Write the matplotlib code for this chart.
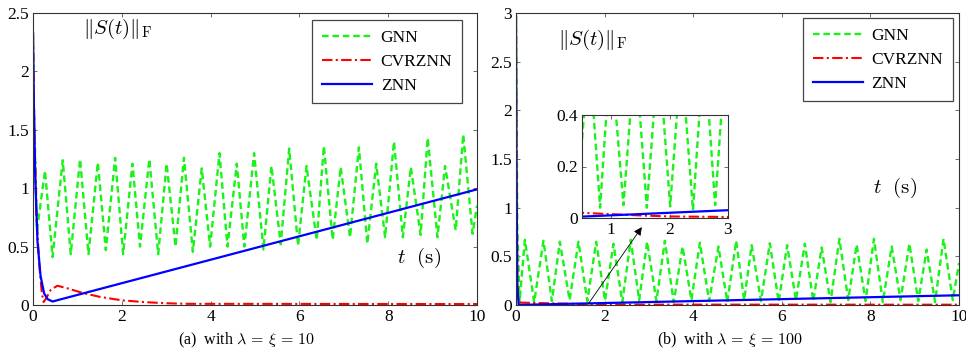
import matplotlib
matplotlib.use("Agg")
import matplotlib.pyplot as plt
import numpy as np

plt.rcParams['font.family'] = ['Liberation Serif', 'DejaVu Serif']
plt.rcParams['mathtext.fontset'] = 'cm'

# ---------------- Panel (a): lambda = xi = 10 ----------------
gnn_a_peak_t = [0.27, 0.67, 1.06, 1.46, 1.85, 2.24, 2.62, 3.01, 3.40, 3.80, 4.20, 4.59, 4.98,
                5.37, 5.77, 6.16, 6.55, 6.93, 7.34, 7.73, 8.13, 8.51, 8.89, 9.28, 9.69]
gnn_a_peak_v = [1.15, 1.24, 1.25, 1.22, 1.26, 1.21, 1.25, 1.21, 1.26, 1.17, 1.30, 1.21, 1.30,
                1.19, 1.34, 1.19, 1.36, 1.18, 1.35, 1.21, 1.40, 1.18, 1.43, 1.19, 1.46]
gnn_a_trough_t = [0.44, 0.85, 1.25, 1.64, 2.03, 2.41, 2.82, 3.21, 3.60, 3.99, 4.38, 4.76, 5.19,
                  5.58, 5.97, 6.39, 6.75, 7.14, 7.53, 7.93, 8.33, 8.73, 9.11, 9.52, 9.90]
gnn_a_trough_v = [0.41, 0.435, 0.435, 0.47, 0.435, 0.50, 0.435, 0.50, 0.455, 0.50, 0.50, 0.50, 0.475,
                  0.52, 0.51, 0.555, 0.56, 0.58, 0.525, 0.58, 0.58, 0.60, 0.58, 0.64, 0.61]
gnn_a_edge_t = [0.0, 0.02, 0.09, 10.0]
gnn_a_edge_v = [2.33, 1.70, 0.64, 0.85]

znn_a_t = [0.0, 0.02, 0.05, 0.10, 0.17, 0.25, 0.33, 0.44, 10.0]
znn_a_v = [2.33, 1.70, 1.10, 0.55, 0.25, 0.10, 0.05, 0.03, 0.99]

cvr_a_t = [0.0, 0.03, 0.08, 0.14, 0.20, 0.24, 0.30, 0.40, 0.55, 0.80, 1.10, 1.50, 2.00, 2.50, 3.00, 3.50, 10.0]
cvr_a_v = [2.33, 1.50, 0.75, 0.35, 0.10, 0.025, 0.06, 0.13, 0.165, 0.14, 0.105, 0.07, 0.04, 0.025, 0.015, 0.01, 0.008]

# ---------------- Panel (b): lambda = xi = 100 ----------------
gnn_b_peak_t = [0.20, 0.62, 0.99, 1.41, 1.81, 2.20, 2.59, 2.96, 3.36, 3.76, 4.15, 4.57, 4.97,
                5.32, 5.73, 6.12, 6.52, 6.90, 7.30, 7.69, 8.08, 8.48, 8.88, 9.27, 9.65]
gnn_b_peak_v = [0.67, 0.66, 0.65, 0.65, 0.65, 0.63, 0.67, 0.65, 0.66, 0.60, 0.64, 0.60, 0.66,
                0.615, 0.635, 0.615, 0.63, 0.59, 0.68, 0.62, 0.68, 0.60, 0.63, 0.57, 0.68]
gnn_b_trough_t = [0.41, 0.81, 1.21, 1.61, 2.01, 2.40, 2.78, 3.17, 3.56, 3.96, 4.36, 4.77, 5.15,
                  5.53, 5.93, 6.32, 6.71, 7.10, 7.50, 7.89, 8.28, 8.68, 9.08, 9.46, 9.86]
gnn_b_trough_v = [0.03, 0.04, 0.05, 0.04, 0.045, 0.03, 0.05, 0.04, 0.03, 0.05, 0.04, 0.03, 0.05,
                  0.04, 0.03, 0.05, 0.04, 0.03, 0.05, 0.04, 0.03, 0.05, 0.04, 0.03, 0.05]
gnn_b_edge_t = [0.0, 0.03, 0.08, 10.0]
gnn_b_edge_v = [2.97, 0.80, 0.03, 0.43]

znn_b_t = [0.0, 0.01, 0.03, 0.06, 10.0]
znn_b_v = [2.97, 1.50, 0.20, 0.001, 0.10]

cvr_b_t = [0.0, 0.01, 0.03, 0.06, 0.50, 1.00, 1.50, 2.00, 3.00, 10.0]
cvr_b_v = [2.97, 1.50, 0.20, 0.025, 0.02, 0.015, 0.01, 0.006, 0.004, 0.003]

xticks = [0, 2, 4, 6, 8, 10]
yticks_a = [0, 0.5, 1, 1.5, 2, 2.5]
yticks_b = [0, 0.5, 1, 1.5, 2, 2.5, 3]
inset_xticks = [1, 2, 3]
inset_yticks = [0, 0.2, 0.4]
labels = ['GNN', 'CVRZNN', 'ZNN']
caption_a = r'(a)  with $\lambda\,=\,\xi\,=\,10$'
caption_b = r'(b)  with $\lambda\,=\,\xi\,=\,100$'


def merge(edge_t, edge_v, pt, pv, tt, tv):
    t = np.array(edge_t[:-1] + pt + tt + edge_t[-1:])
    v = np.array(edge_v[:-1] + pv + tv + edge_v[-1:])
    o = np.argsort(t, kind='stable')
    return t[o], v[o]


GREEN = (0.1, 0.95, 0.1)
RED = (1.0, 0.0, 0.0)
BLUE = (0.0, 0.0, 1.0)
SPINE = '#333333'


def style_axes(ax, fs=10):
    ax.tick_params(direction='in', top=True, right=True, length=3, width=0.6,
                   color='#555555', labelsize=fs, pad=3)
    for s in ax.spines.values():
        s.set_color(SPINE)
        s.set_linewidth(0.8)


def fmt(v):
    return ('%g' % v)


def draw(ax, gt, gv, ct, cv, zt, zv):
    ax.plot(gt, gv, color=GREEN, lw=1.7, dashes=(2.8, 1.6), label=labels[0])
    ax.plot(ct, cv, color=RED, lw=1.5, dashes=(5.0, 1.6, 1.0, 1.6), label=labels[1])
    ax.plot(zt, zv, color=BLUE, lw=1.6, label=labels[2])


fig = plt.figure(figsize=(9.66, 3.54), dpi=100)

# Panel (a)
ax1 = fig.add_axes([33 / 966, 49 / 354, 444 / 966, 292 / 354])
gt, gv = merge(gnn_a_edge_t, gnn_a_edge_v, gnn_a_peak_t, gnn_a_peak_v, gnn_a_trough_t, gnn_a_trough_v)
draw(ax1, gt, gv, cvr_a_t, cvr_a_v, znn_a_t, znn_a_v)
ax1.set_xlim(0, 10)
ax1.set_ylim(0, 2.5)
ax1.set_xticks(xticks)
ax1.set_xticklabels([fmt(x) for x in xticks])
ax1.set_yticks(yticks_a)
ax1.set_yticklabels([fmt(y) for y in yticks_a])
style_axes(ax1, 12.5)
leg1 = ax1.legend(loc='upper right', bbox_to_anchor=(0.966, 0.976), fontsize=12.5,
                  handlelength=2.9, fancybox=False, edgecolor='#444444', framealpha=1,
                  labelspacing=0.45, borderpad=0.55, handletextpad=0.5, borderaxespad=0)
leg1.get_frame().set_linewidth(0.9)
ax1.text(0.113, 0.945, r'$\|S(t)\|_{\mathrm{F}}$', transform=ax1.transAxes, fontsize=15,
         ha='left', va='center')
ax1.text(0.82, 0.161, r'$t\ \ \mathrm{(s)}$', transform=ax1.transAxes, fontsize=15,
         ha='left', va='center')

# Panel (b)
ax2 = fig.add_axes([516 / 966, 49 / 354, 443 / 966, 292 / 354])
gt2, gv2 = merge(gnn_b_edge_t, gnn_b_edge_v, gnn_b_peak_t, gnn_b_peak_v, gnn_b_trough_t, gnn_b_trough_v)
draw(ax2, gt2, gv2, cvr_b_t, cvr_b_v, znn_b_t, znn_b_v)
ax2.set_xlim(0, 10)
ax2.set_ylim(0, 3)
ax2.set_xticks(xticks)
ax2.set_xticklabels([fmt(x) for x in xticks])
ax2.set_yticks(yticks_b)
ax2.set_yticklabels([fmt(y) for y in yticks_b])
style_axes(ax2, 12.5)
leg2 = ax2.legend(loc='upper right', bbox_to_anchor=(0.986, 0.983), fontsize=12.5,
                  handlelength=2.9, fancybox=False, edgecolor='#444444', framealpha=1,
                  labelspacing=0.45, borderpad=0.55, handletextpad=0.5, borderaxespad=0)
leg2.get_frame().set_linewidth(0.9)
ax2.text(0.095, 0.908, r'$\|S(t)\|_{\mathrm{F}}$', transform=ax2.transAxes, fontsize=15,
         ha='left', va='center')
ax2.text(0.806, 0.40, r'$t\ \ \mathrm{(s)}$', transform=ax2.transAxes, fontsize=15,
         ha='left', va='center')
ax2.annotate('', xy=(2.84, 0.80), xytext=(1.63, 0.01),
             arrowprops=dict(arrowstyle='-|>', color='k', lw=0.6, mutation_scale=12,
                             shrinkA=0, shrinkB=0))

# Inset
axi = fig.add_axes([582 / 966, 136 / 354, 146 / 966, 103 / 354])
draw(axi, gt2, gv2, cvr_b_t, cvr_b_v, znn_b_t, znn_b_v)
axi.set_xlim(0.5, 3)
axi.set_ylim(0, 0.4)
axi.set_xticks(inset_xticks)
axi.set_xticklabels([fmt(x) for x in inset_xticks])
axi.set_yticks(inset_yticks)
axi.set_yticklabels([fmt(y) for y in inset_yticks])
style_axes(axi, 12.5)

fig.text(247 / 966, 1 - 340 / 354, caption_a, ha='center', va='center', fontsize=11.5)
fig.text(730 / 966, 1 - 340 / 354, caption_b, ha='center', va='center', fontsize=11.5)

fig.savefig('out.png', dpi=100)
